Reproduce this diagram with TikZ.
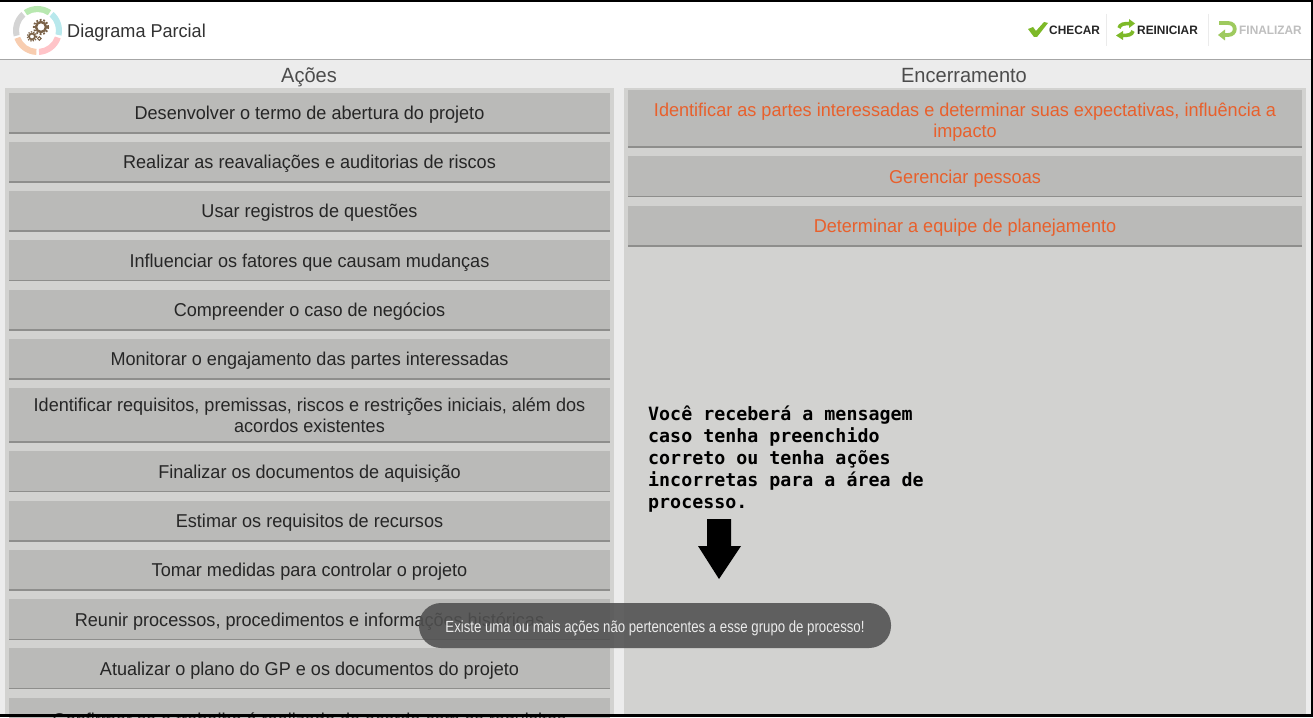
\documentclass[tikz,border=0pt]{standalone}
\usepackage{fontspec}
\usepackage{xcolor}
\setmainfont[FakeStretch=0.972]{Liberation Sans}
\newfontfamily\notefont{DejaVu Sans Mono}
\newfontfamily\toastfont[FakeStretch=0.815]{Liberation Sans}
\usetikzlibrary{calc}

\definecolor{pagegray}{HTML}{ECECEC}
\definecolor{panelgray}{HTML}{D2D2D0}
\definecolor{boxgray}{HTML}{BABAB8}
\definecolor{boxline}{HTML}{8E8E8C}
\definecolor{wrongred}{HTML}{E8602C}
\definecolor{toastgray}{HTML}{505050}
\definecolor{leafgreen}{HTML}{7DB928}
\definecolor{gearbrown}{HTML}{7A6248}
\definecolor{ringgreen}{HTML}{B8E8B0}
\definecolor{ringcyan}{HTML}{B8E8EC}
\definecolor{ringpink}{HTML}{FFC4C8}
\definecolor{ringorange}{HTML}{F8CDB0}
\definecolor{ringgray}{HTML}{D4D4D4}

\tikzset{
    actionbox/.style={rectangle,fill=boxgray,inner sep=0pt,text=black!85,font=\fontsize{18.6}{21}\selectfont,align=center,
        path picture={\draw[color=boxline,line width=2pt] (path picture bounding box.south west) -- (path picture bounding box.south east);}},
    leftbox/.style={actionbox,minimum width=601pt,minimum height=40.5pt,execute at begin node={\rule{0pt}{17.5pt}}},
    rightbox/.style={actionbox,minimum width=674pt,minimum height=40.5pt,text=wrongred,execute at begin node={\rule{0pt}{17.5pt}}},
    headlabel/.style={inner sep=0pt,text=black!70,text height=15pt,text depth=4pt,font=\fontsize{20.6}{22}\selectfont},
    toolabel/.style={inner sep=0pt,anchor=west,font=\bfseries\fontsize{12.2}{14}\selectfont}
}

\begin{document}
\begin{tikzpicture}[x=1pt,y=-1pt]
    \useasboundingbox (0,0) rectangle (1313,717);
    \fill[pagegray] (0,0) rectangle (1313,717);

    % top bar
    \fill[white] (0,2) rectangle (1313,59);
    \fill[black!35] (0,59) rectangle (1313,60.2);
    \draw[black!8] (1106.5,14) -- (1106.5,46);
    \draw[black!8] (1208,14) -- (1208,46);

    % logo
    \begin{scope}[shift={(37.5,30.5)},x=1pt,y=1pt]
        \fill[ringgreen] (124:24.5) arc[start angle=124,end angle=56,radius=24.5] -- (56:18.5) arc[start angle=56,end angle=124,radius=18.5] -- cycle;
        \fill[ringcyan] (49:24.5) arc[start angle=49,end angle=-12,radius=24.5] -- (-12:18.5) arc[start angle=-12,end angle=49,radius=18.5] -- cycle;
        \fill[ringpink] (-19:24.5) arc[start angle=-19,end angle=-86,radius=24.5] -- (-86:18.5) arc[start angle=-86,end angle=-19,radius=18.5] -- cycle;
        \fill[ringorange] (-93:24.5) arc[start angle=-93,end angle=-160,radius=24.5] -- (-160:18.5) arc[start angle=-160,end angle=-93,radius=18.5] -- cycle;
        \fill[ringgray] (131:24.5) arc[start angle=131,end angle=194,radius=24.5] -- (194:18.5) arc[start angle=194,end angle=131,radius=18.5] -- cycle;
    \end{scope}
    \draw[gearbrown,line width=2.4pt] (41,27) circle (5);
    \draw[gearbrown,line width=1.8pt,dash pattern=on 1.8pt off 1.8pt] (41,27) circle (7.2);
    \draw[gearbrown,line width=1.8pt] (32,36.5) circle (3);
    \draw[gearbrown,line width=1.2pt,dash pattern=on 1.3pt off 1.3pt] (32,36.5) circle (4.8);
    \draw[gearbrown,line width=1pt] (39.3,38.5) circle (1.8);

    \node[inner sep=0pt,anchor=west,text=black!80,font=\fontsize{18.6}{21}\selectfont] (titulo) at (67,33) {Diagrama Parcial};

    % toolbar
    \fill[leafgreen] (1028,29) -- (1033,27) -- (1036,31) -- (1044,22) -- (1048,23) -- (1037,37) -- (1034,37) -- cycle;
    \node[toolabel,text=black!85] (checar) at (1049,30) {CHECAR};
    \draw[leafgreen,line width=3.6pt] (1119,28) .. controls (1120,24) and (1124,23.5) .. (1130,23.5);
    \fill[leafgreen] (1129,19) -- (1135,23.5) -- (1129,28) -- cycle;
    \draw[leafgreen,line width=3.6pt] (1133,31) .. controls (1132,35) and (1128,35.5) .. (1122,35.5);
    \fill[leafgreen] (1123,31) -- (1116,35.5) -- (1123,40) -- cycle;
    \node[toolabel,text=black!85] (reiniciar) at (1137,30) {REINICIAR};
    \draw[leafgreen!75,line width=3.8pt] (1219,23) -- (1228,23) .. controls (1237,23) and (1237,35) .. (1228,35) -- (1224,35);
    \fill[leafgreen!75] (1225,29.5) -- (1218,35) -- (1225,40.5) -- cycle;
    \node[toolabel,text=black!25] (finalizar) at (1239,30) {FINALIZAR};

    % panels
    \fill[panelgray] (5,88) rectangle (614,717);
    \fill[panelgray] (624,88) rectangle (1306,717);

    \node[headlabel] (acoes) at (309,77) {Ações};
    \node[headlabel] (encerramento) at (964,77) {Encerramento};

    \node[leftbox] (acao1) at (309.5,113) {Desenvolver o termo de abertura do projeto};
    \node[leftbox] (acao2) at (309.5,162) {Realizar as reavaliações e auditorias de riscos};
    \node[leftbox] (acao3) at (309.5,211) {Usar registros de questões};
    \node[leftbox] (acao4) at (309.5,260.5) {Influenciar os fatores que causam mudanças};
    \node[leftbox] (acao5) at (309.5,310) {Compreender o caso de negócios};
    \node[leftbox] (acao6) at (309.5,359) {Monitorar o engajamento das partes interessadas};
    \node[leftbox,minimum height=54.5pt,execute at begin node={}] (acao7) at (309.5,415) {Identificar requisitos, premissas, riscos e restrições iniciais, além dos\\acordos existentes};
    \node[leftbox] (acao8) at (309.5,471.5) {Finalizar os documentos de aquisição};
    \node[leftbox] (acao9) at (309.5,521) {Estimar os requisitos de recursos};
    \node[leftbox] (acao10) at (309.5,570) {Tomar medidas para controlar o projeto};
    \node[leftbox] (acao11) at (309.5,619.5) {Reunir processos, procedimentos e informações históricas};
    \node[leftbox] (acao12) at (309.5,668.5) {Atualizar o plano do GP e os documentos do projeto};
    \node[leftbox,minimum height=44pt] (acao13) at (309.5,720) {Confirmar se o trabalho é realizado de acordo com os requisitos};

    \node[rightbox,minimum height=57.5pt,execute at begin node={},text height=42.5pt] (fim1) at (965,118.5) {Identificar as partes interessadas e determinar suas expectativas, influência a\\impacto};
    \node[rightbox] (fim2) at (965,176.5) {Gerenciar pessoas};
    \node[rightbox] (fim3) at (965,226) {Determinar a equipe de planejamento};

    % note
    \node[inner sep=0pt,anchor=north west,align=left,text=black,font=\notefont\bfseries\fontsize{18.3}{22}\selectfont] (aviso) at (648,406) {Você receberá a mensagem\\caso tenha preenchido\\correto ou tenha ações\\incorretas para a área de\\processo.};
    \fill[black] (707,519) -- (731,519) -- (731,546) -- (741,546) -- (719,579) -- (698,546) -- (707,546) -- cycle;

    % message
    \node[rectangle,rounded corners=22pt,fill=toastgray,fill opacity=0.88,text opacity=1,text=white!92!black,inner sep=0pt,minimum width=472pt,minimum height=45pt,font=\toastfont\fontsize{16.2}{18}\selectfont,execute at begin node={\rule{0pt}{18pt}}] (mensagem) at (655,625.5) {Existe uma ou mais ações não pertencentes a esse grupo de processo!};

    % screen edge
    \fill[black] (0,0) rectangle (1313,2);
    \fill[black] (0,714) rectangle (1313,717);
    \fill[black] (1311,0) rectangle (1313,717);
\end{tikzpicture}
\end{document}
